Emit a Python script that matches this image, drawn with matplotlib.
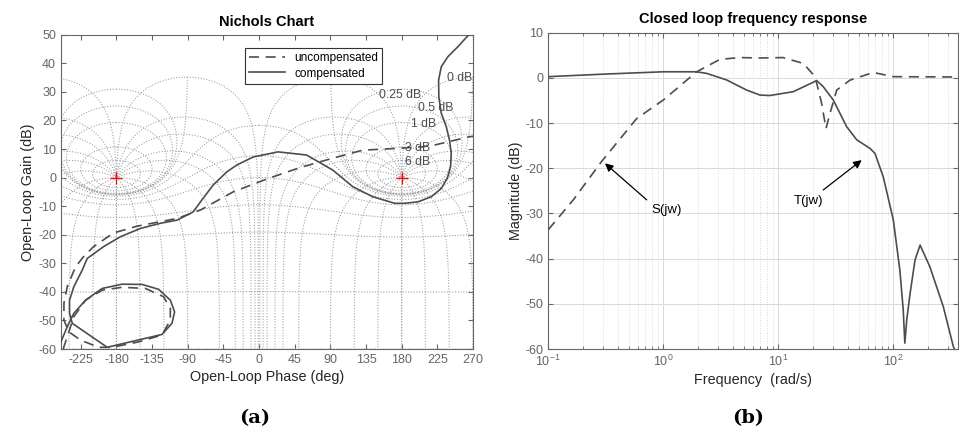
import numpy as np
import matplotlib.pyplot as plt

plt.rcParams['font.family'] = ['Liberation Sans', 'DejaVu Sans']
plt.rcParams['axes.unicode_minus'] = False

# Nichols chart: open-loop phase (deg) / gain (dB)
comp_phase = [272, 264.4, 250.9, 238.3, 230, 226.6, 226.9, 230, 236.3, 240.4, 242.6, 241.7,
              237.5, 230, 217.4, 200.5, 183.8, 171.2, 143.5, 118.3, 93.2, 60, 23.9, -7.5,
              -28.1, -40.7, -57.9, -72.4, -83.1, -103.6, -124.6, -149.8, -175, -196.4,
              -216.9, -223.2, -233.8, -239.2, -239.2, -235.8, -191.7, -122.5, -109.9,
              -106.6, -112, -126.8, -147.6, -172.8, -198, -219, -233.8, -242.1, -249.2, -254]
comp_gain = [51.5, 49.9, 45.8, 42.3, 38.8, 34.1, 28.3, 22.5, 17.8, 13.1, 8.5, 3.8,
             -0.3, -3.8, -6.7, -8.5, -9.0, -9.0, -6.7, -3.2, 2.6, 7.9, 9.0, 7.2,
             4.4, 2.0, -2.6, -7.9, -12.0, -14.9, -16.0, -17.8, -20.7, -24.2,
             -28.3, -32.4, -38.2, -42.9, -47.5, -51.0, -59.4, -54.9, -51.0,
             -47.0, -42.9, -39.1, -37.4, -37.3, -38.8, -42.9, -47.5, -52.2, -56.9, -61]

unc_phase = [275, 265.6, 221.6, 206.5, 173.3, 130.9, 93.2, 51.6, 9.7, -32.7, -74.3,
             -103.6, -133.4, -153.9, -183.8, -209, -221.5, -231.6, -242.1, -246.3,
             -246.3, -240, -225.3, -202.3, -185.4, -151.9, -122.5, -112, -112, -120.5,
             -143.5, -172.8, -198, -219, -233.8, -242.1, -246.3, -249]
unc_gain = [14.6, 14.3, 11.4, 10.8, 10.2, 9.6, 6.8, 3.5, -0.5, -5.0, -11.4,
            -14.3, -15.9, -17.0, -19.4, -24.2, -27.7, -31.2, -38.2, -44.0,
            -49.9, -54.0, -56.9, -59.4, -59.4, -57.5, -55.1, -49.9, -45.8, -41.7,
            -38.8, -38.4, -39.4, -42.9, -48.7, -55.7, -59.2, -62]

# Closed loop response
t_freq = [0.1, 0.322, 1, 1.95, 2.38, 3.56, 5.31, 6.93, 8.47, 13.5, 21.6, 24.6, 30.1, 39.3,
          48.1, 62.7, 69.3, 81.8, 100, 114, 122, 126, 131, 140, 154.5, 171, 208, 272, 333, 370]
t_mag = [0.27, 0.86, 1.35, 1.35, 1.0, -0.46, -2.7, -3.8, -3.9, -3.05, -0.6, -1.95, -4.9, -10.8,
         -13.7, -15.6, -16.7, -21.9, -31.4, -42.5, -51.3, -58.7, -53.5, -47.7, -40.3, -37.0,
         -41.8, -50.6, -59.5, -62]
s_freq = [0.1, 0.165, 0.291, 0.587, 1, 1.95, 3.11, 4.64, 6.93, 11.0, 16.5, 20.9, 23.8, 26,
          28.2, 32.2, 42, 67, 100, 370]
s_mag = [-33.6, -27, -18.5, -9.0, -4.9, 1.35, 4.1, 4.5, 4.4, 4.5, 3.2, 0.27, -5.6, -11.2,
         -7.8, -2.7, -0.5, 1.2, 0.27, 0.2]

# Nichols grid levels (closed-loop gain dB / phase deg)
grid_gains = [6, 3, 1, 0.5, 0.25, 0, -1, -3, -6, -12, -20, -40, -60]
grid_phases = [1, 5, 10, 20, 30, 50, 90, 120, 150, 180]
grid_labels = ['0 dB', '0.25 dB', '0.5 dB', '1 dB', '3 dB', '6 dB']
label_phase = [253, 177.5, 222.8, 208.1, 200.5, 200.5]
label_gain = [34.7, 28.9, 24.4, 18.6, 10.2, 5.5]

line_col = '0.3'
grid_col = '0.6'


def draw_curve(ax, ph, gd):
    for k in [-360, 0, 360]:
        ax.plot(ph + k, gd, ls=':', color=grid_col, lw=0.75, zorder=1)


def nichols_grid(ax):
    for g in grid_gains:
        m = 10 ** (g / 20)
        if g == 0:
            phi = np.linspace(-359, -1, 3000)
        else:
            phi = np.linspace(-360, 0, 3000)
        T = m * np.exp(1j * np.deg2rad(phi))
        L = T / (1 - T)
        ph = np.rad2deg(np.unwrap(np.angle(L)))
        ph -= 360 * np.round((ph.mean() + 180) / 360)
        draw_curve(ax, ph, 20 * np.log10(np.abs(L)))
    r = np.logspace(-5, 5, 40000)
    for p in grid_phases:
        for phi in [-p, -360 + p]:
            T = r * np.exp(1j * np.deg2rad(phi))
            L = T / (1 - T)
            ph = np.rad2deg(np.unwrap(np.angle(L)))
            ph += 360 * np.round((phi - ph[0]) / 360)
            draw_curve(ax, ph, 20 * np.log10(np.abs(L)))


fig = plt.figure(figsize=(9.59, 4.32), dpi=100)

# (a) Nichols chart
ax1 = fig.add_axes([0.0636, 0.1921, 0.4296, 0.7275])
nichols_grid(ax1)
ax1.plot(unc_phase, unc_gain, '--', color=line_col, lw=1.2, dashes=(6, 4), label='uncompensated', zorder=3)
ax1.plot(comp_phase, comp_gain, '-', color=line_col, lw=1.2, label='compensated', zorder=3)
ax1.plot([-180, 180], [0, 0], '+', color='red', ms=8, mew=0.9, zorder=4)
for s, x, y in zip(grid_labels, label_phase, label_gain):
    ax1.text(x, y, s, fontsize=8.8, color='0.3', ha='center', va='center', zorder=2)
ax1.set_xlim(-250, 270)
ax1.set_ylim(-60, 50)
ax1.set_xticks(np.arange(-225, 271, 45))
ax1.set_yticks(np.arange(-60, 51, 10))
ax1.set_title('Nichols Chart', fontsize=10.5, fontweight='bold', pad=6)
ax1.set_xlabel('Open-Loop Phase (deg)', fontsize=10.4, color='0.15', labelpad=3)
ax1.set_ylabel('Open-Loop Gain (dB)', fontsize=10.4, color='0.15', labelpad=2)
leg = ax1.legend(loc='upper left', bbox_to_anchor=(0.447, 0.958), fontsize=8.5, fancybox=False,
                 edgecolor='0.2', framealpha=1, borderaxespad=0, handlelength=3.0,
                 borderpad=0.35, labelspacing=0.3)
leg.get_frame().set_linewidth(0.8)

# (b) closed loop response
ax2 = fig.add_axes([0.5717, 0.1921, 0.4275, 0.7322])
ax2.semilogx(t_freq, t_mag, '-', color=line_col, lw=1.2, zorder=3)
ax2.semilogx(s_freq, s_mag, '--', color=line_col, lw=1.2, dashes=(6, 4), zorder=3)
ax2.set_xlim(0.1, 367)
ax2.set_ylim(-60, 10)
ax2.set_yticks(np.arange(-60, 11, 10))
ax2.grid(True, which='major', color='0.85', lw=0.7)
ax2.grid(True, which='minor', axis='x', color='0.85', ls=':', lw=0.7)
ax2.set_title('Closed loop frequency response', fontsize=10.5, fontweight='bold', pad=7)
ax2.set_xlabel('Frequency  (rad/s)', fontsize=10.4, color='0.15', labelpad=3)
ax2.set_ylabel('Magnitude (dB)', fontsize=10.4, color='0.15', labelpad=2)
arrow = dict(arrowstyle='-|>', color='k', lw=0.9, mutation_scale=12, shrinkA=0, shrinkB=0)
ax2.annotate('', xy=(0.311, -18.9), xytext=(0.718, -27), arrowprops=arrow)
ax2.text(1.07, -29.2, 'S(jw)', fontsize=9.5, ha='center', va='center')
ax2.annotate('', xy=(53.1, -18.2), xytext=(24.6, -24.8), arrowprops=arrow)
ax2.text(18.2, -27.2, 'T(jw)', fontsize=9.5, ha='center', va='center')

for ax in (ax1, ax2):
    ax.tick_params(which='both', direction='in', top=True, right=True, labelsize=9,
                   labelcolor='0.4', color='0.4')
    for sp in ax.spines.values():
        sp.set_color('0.4')
        sp.set_linewidth(0.8)
    ax.set_axisbelow(True)

fig.text(0.266, 0.032, '(a)', fontsize=14, fontweight='bold', family='DejaVu Serif', ha='center', va='center')
fig.text(0.78, 0.032, '(b)', fontsize=14, fontweight='bold', family='DejaVu Serif', ha='center', va='center')

fig.savefig('out.png', dpi=100)
